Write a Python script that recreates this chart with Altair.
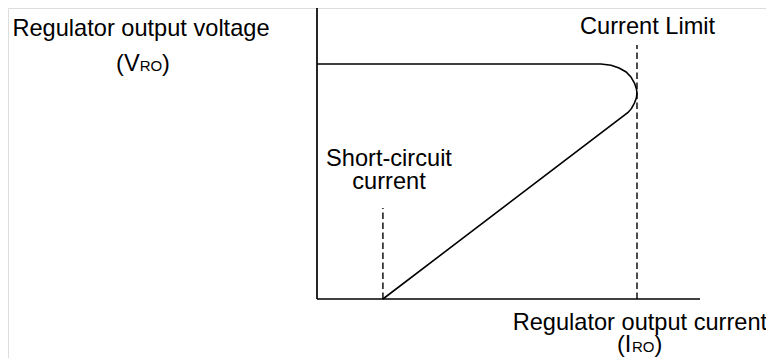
import altair as alt
import pandas as pd

# Regulator output characteristic (current in % of current limit, voltage in % of VRO)
curve_current = [0.0, 88.75, 91.9, 94.4, 96.6, 98.1, 99.2, 99.8, 100.0, 99.8, 99.2, 98.3, 97.2, 20.6]
curve_voltage = [100.0, 100.0, 99.5, 98.3, 96.6, 94.5, 91.9, 89.6, 87.7, 85.5, 83.4, 81.1, 79.4, 0.0]

# Axes (start/end in data units)
axis_x = [0.0, 0.0]
axis_y = [0.0, 0.0]
axis_x2 = [119.7, 0.0]
axis_y2 = [0.0, 123.8]

# Guide lines: current limit and short-circuit current
guide_current = [100.0, 20.6]
guide_top = [108.1, 38.7]

# Centered labels
label_text = ["Regulator output voltage", "Current Limit", "Short-circuit", "current",
              "Regulator output current"]
label_x = [-55.0, 103.3, 22.5, 22.5, 100.9]
label_y = [111.9, 112.6, 56.4, 46.6, -13.2]

# Symbol labels built from pieces: (VRO) and (IRO)
big_text = ["(V", ")", "(I", ")"]
big_x = [-62.8, -48.4, 93.75, 105.5]
big_y = [97.0, 97.0, -22.55, -22.55]
small_text = ["RO", "RO"]
small_x = [-55.4, 98.4]
small_y = [97.0, -22.55]

# Layout: pixels per data unit and plot extent
W, H = 758, 350
PX_X, PX_Y = 3.2, 2.35
X_MIN = -309 / PX_X
X_MAX = X_MIN + W / PX_X
Y_MAX = 291 / PX_Y
Y_MIN = Y_MAX - H / PX_Y

xs = alt.Scale(domain=[X_MIN, X_MAX], nice=False, zero=False)
ys = alt.Scale(domain=[Y_MIN, Y_MAX], nice=False, zero=False)
FONT = "Liberation Sans"

curve_df = pd.DataFrame({"i": curve_current, "v": curve_voltage, "k": range(len(curve_current))})
axes_df = pd.DataFrame({"x": axis_x, "y": axis_y, "x2": axis_x2, "y2": axis_y2})
guide_df = pd.DataFrame({"x": guide_current, "y": [0.0, 0.0], "y2": guide_top})
label_df = pd.DataFrame({"t": label_text, "x": label_x, "y": label_y})
big_df = pd.DataFrame({"t": big_text, "x": big_x, "y": big_y})
small_df = pd.DataFrame({"t": small_text, "x": small_x, "y": small_y})

curve = alt.Chart(curve_df).mark_line(color="black", strokeWidth=1.6, clip=False).encode(
    x=alt.X("i:Q", scale=xs, axis=None),
    y=alt.Y("v:Q", scale=ys, axis=None),
    order="k:Q",
)

axes = alt.Chart(axes_df).mark_rule(color="black", strokeWidth=1.7).encode(
    x=alt.X("x:Q", scale=xs, axis=None),
    y=alt.Y("y:Q", scale=ys, axis=None),
    x2="x2:Q",
    y2="y2:Q",
)

guides = alt.Chart(guide_df).mark_rule(color="black", strokeWidth=1.4, strokeDash=[6.5, 3.5]).encode(
    x=alt.X("x:Q", scale=xs, axis=None),
    y=alt.Y("y:Q", scale=ys, axis=None),
    y2="y2:Q",
)

labels = alt.Chart(label_df).mark_text(
    align="center", baseline="alphabetic", font=FONT, fontSize=23.6, color="black"
).encode(
    x=alt.X("x:Q", scale=xs, axis=None),
    y=alt.Y("y:Q", scale=ys, axis=None),
    text="t:N",
)

big = alt.Chart(big_df).mark_text(
    align="left", baseline="alphabetic", font=FONT, fontSize=23.6, color="black"
).encode(
    x=alt.X("x:Q", scale=xs, axis=None),
    y=alt.Y("y:Q", scale=ys, axis=None),
    text="t:N",
)

small = alt.Chart(small_df).mark_text(
    align="left", baseline="alphabetic", font=FONT, fontSize=15, color="black"
).encode(
    x=alt.X("x:Q", scale=xs, axis=None),
    y=alt.Y("y:Q", scale=ys, axis=None),
    text="t:N",
)

chart = alt.layer(axes, guides, curve, labels, big, small).properties(
    width=W, height=H, padding=0, autosize=alt.AutoSizeParams(type="none")
).configure_view(stroke=None).configure(background="white")

chart.save("out.html", embed_options={"renderer": "svg", "actions": False})
